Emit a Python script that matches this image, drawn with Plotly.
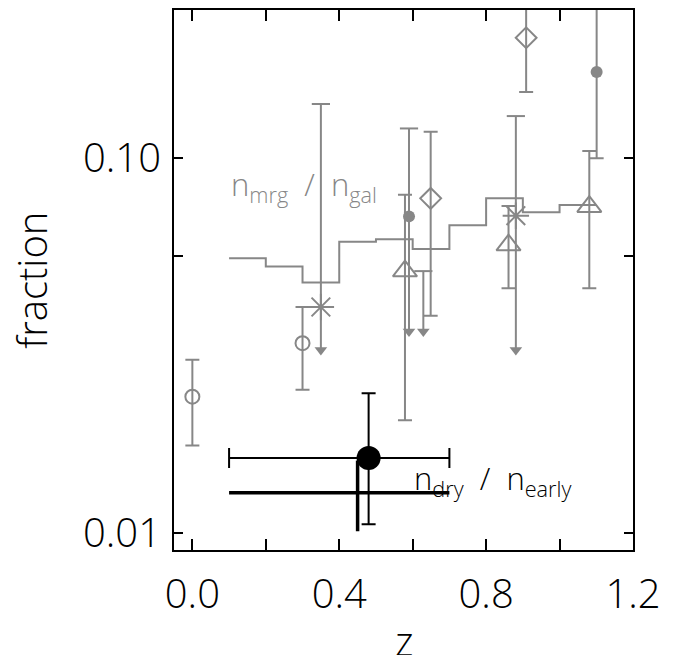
import numpy as np
import plotly.graph_objects as go

GRAY = "#878787"
BLACK = "#000000"

# ---- data ----
# two-sided error points
circ_open_z = [0.0, 0.30]
circ_open_f = [0.0231, 0.0321]
circ_open_lo = [0.0171, 0.0241]
circ_open_hi = [0.0290, 0.0401]

tri_z = [0.579, 0.861, 1.081]
tri_f = [0.0500, 0.0587, 0.0743]
tri_lo = [0.0200, 0.0450, 0.0450]
tri_hi = [0.0800, 0.0746, 0.1047]

dia_z = [0.649, 0.909]
dia_f = [0.0782, 0.2100]
dia_lo = [0.0380, 0.1505]
dia_hi = [0.1178, 0.3000]

fcirc_z = [1.101]
fcirc_f = [0.170]
fcirc_lo = [0.100]
fcirc_hi = [0.300]

# points whose lower error runs down to an arrow
ast_z = [0.350, 0.881]
ast_f = [0.0401, 0.0703]
ast_top = [0.1397, 0.1297]
ast_arrow = [0.0308, 0.0308]

fcirc2_z = [0.590]
fcirc2_f = [0.0700]
fcirc2_top = [0.1202]
fcirc2_arrow = [0.0345]

ulim_z = [0.629]
ulim_f = [0.0500]
ulim_arrow = [0.0345]

# n_mrg / n_gal step line
step_edges = [0.1, 0.2, 0.3, 0.4, 0.5, 0.6, 0.7, 0.8, 0.9, 1.0, 1.1]
step_vals = [0.0541, 0.0514, 0.0466, 0.0599, 0.0608, 0.0573, 0.0663, 0.0782, 0.0718, 0.0751]

# n_dry / n_early
dry_z = [0.48]
dry_f = [0.01585]
dry_zlo = [0.10]
dry_zhi = [0.70]
dry_flo = [0.01054]
dry_fhi = [0.0236]

dry2_z = [0.45]
dry2_f = [0.0128]
dry2_zlo = [0.10]
dry2_zhi = [0.70]
dry2_flo = [0.0101]
dry2_fhi = [0.0156]

x_ticks = [0.0, 0.4, 0.8, 1.2]
x_ticktext = ["0.0", "0.4", "0.8", "1.2"]
y_ticks = [0.01, 0.055, 0.1]
y_ticktext = ["0.01", "", "0.10"]

FONT = "Open Sans"

fig = go.Figure()


def sym_err(z, f, lo, hi, symbol, size, filled, color=GRAY):
    f = np.array(f); lo = np.array(lo); hi = np.array(hi)
    fig.add_trace(go.Scatter(
        x=z, y=f, mode="markers",
        marker=dict(symbol=symbol, size=size, color=color,
                    line=dict(color=color, width=0 if filled else 2)),
        error_y=dict(type="data", symmetric=False, array=hi - f,
                     arrayminus=f - lo, color=color, thickness=2, width=7),
        showlegend=False, hoverinfo="skip"))


def arrow_err(z, f, top, arrow, symbol, size, filled, color=GRAY):
    xs, ys = [], []
    for zi, ti, ai in zip(z, top, arrow):
        xs += [zi, zi, None]
        ys += [ti, ai, None]
    fig.add_trace(go.Scatter(x=xs, y=ys, mode="lines",
                             line=dict(color=color, width=2),
                             showlegend=False, hoverinfo="skip"))
    fig.add_trace(go.Scatter(x=z, y=top, mode="markers",
                             marker=dict(symbol="line-ew", size=13, color=color,
                                         line=dict(color=color, width=2)),
                             showlegend=False, hoverinfo="skip"))
    fig.add_trace(go.Scatter(x=z, y=arrow, mode="markers",
                             marker=dict(symbol="triangle-down", size=11,
                                         color=color, line=dict(width=0)),
                             showlegend=False, hoverinfo="skip"))
    if symbol is not None:
        fig.add_trace(go.Scatter(
            x=z, y=f, mode="markers",
            marker=dict(symbol=symbol, size=size, color=color,
                        line=dict(color=color, width=0 if filled else 2)),
            showlegend=False, hoverinfo="skip"))


# step line
fig.add_trace(go.Scatter(x=step_edges, y=step_vals + [step_vals[-1]],
                         mode="lines", line=dict(color=GRAY, width=2, shape="hv"),
                         showlegend=False, hoverinfo="skip"))

sym_err(circ_open_z, circ_open_f, circ_open_lo, circ_open_hi, "circle-open", 14, False)
sym_err(tri_z, tri_f, tri_lo, tri_hi, "triangle-up-open", 21, False)
sym_err(dia_z, dia_f, dia_lo, dia_hi, "diamond-open", 16, False)
sym_err(fcirc_z, fcirc_f, fcirc_lo, fcirc_hi, "circle", 12, True)

arrow_err(ast_z, ast_f, ast_top, ast_arrow, "asterisk-open", 22, False)
arrow_err(fcirc2_z, fcirc2_f, fcirc2_top, fcirc2_arrow, "circle", 12, True)
arrow_err(ulim_z, ulim_f, ulim_f, ulim_arrow, None, 0, False)

# black thick cross (no marker)
fig.add_trace(go.Scatter(
    x=dry2_z, y=dry2_f, mode="markers",
    marker=dict(size=1, color="rgba(0,0,0,0)"),
    error_x=dict(type="data", symmetric=False,
                 array=[dry2_zhi[0] - dry2_z[0]], arrayminus=[dry2_z[0] - dry2_zlo[0]],
                 color=BLACK, thickness=3.5, width=0),
    error_y=dict(type="data", symmetric=False,
                 array=[dry2_fhi[0] - dry2_f[0]], arrayminus=[dry2_f[0] - dry2_flo[0]],
                 color=BLACK, thickness=3.5, width=0),
    showlegend=False, hoverinfo="skip"))

# black point
fig.add_trace(go.Scatter(
    x=dry_z, y=dry_f, mode="markers",
    marker=dict(symbol="circle", size=24, color=BLACK),
    error_x=dict(type="data", symmetric=False,
                 array=[dry_zhi[0] - dry_z[0]], arrayminus=[dry_z[0] - dry_zlo[0]],
                 color=BLACK, thickness=2, width=10),
    error_y=dict(type="data", symmetric=False,
                 array=[dry_fhi[0] - dry_f[0]], arrayminus=[dry_f[0] - dry_flo[0]],
                 color=BLACK, thickness=2, width=7),
    showlegend=False, hoverinfo="skip"))

fig.add_annotation(x=0.100, y=np.log10(0.0845), xref="x", yref="y",
                   text="n<sub>mrg</sub>  /  n<sub>gal</sub>", showarrow=False,
                   xanchor="left", yanchor="middle",
                   font=dict(family=FONT, size=31, color=GRAY, weight=300))
fig.add_annotation(x=0.597, y=np.log10(0.0138), xref="x", yref="y",
                   text="n<sub>dry</sub>  /  n<sub>early</sub>", showarrow=False,
                   xanchor="left", yanchor="middle",
                   font=dict(family=FONT, size=31, color=BLACK, weight=300))

# axis titles
fig.add_annotation(x=0.5, y=-0.168, xref="paper", yref="paper", text="z",
                   showarrow=False, xanchor="center", yanchor="middle",
                   font=dict(family=FONT, size=40, color=BLACK, weight=300))
fig.add_annotation(x=-0.312, y=0.5, xref="paper", yref="paper", text="fraction",
                   showarrow=False, xanchor="center", yanchor="middle", textangle=-90,
                   font=dict(family=FONT, size=40, color=BLACK, weight=300))

# page body has an 8px margin: compensate so the plot sits where the reference has it
fig.update_layout(
    width=668, height=647,
    margin=dict(l=166, r=43, t=2, b=105, autoexpand=False),
    plot_bgcolor="white", paper_bgcolor="white",
    font=dict(family=FONT, size=40, color=BLACK, weight=300),
)
fig.update_xaxes(
    range=[-0.05, 1.2], tickvals=x_ticks, ticktext=x_ticktext,
    ticks="inside", ticklen=11, tickwidth=2, tickcolor=BLACK,
    minor=dict(dtick=0.2, tick0=0.0, ticks="inside", ticklen=11, tickwidth=2, tickcolor=BLACK),
    showline=True, linewidth=2, linecolor=BLACK, mirror="ticks",
    showgrid=False, zeroline=False, ticklabelstandoff=8,
    tickfont=dict(size=40), automargin=False,
)
fig.update_yaxes(
    type="log", range=[np.log10(0.009), np.log10(0.249)],
    tickvals=y_ticks, ticktext=y_ticktext,
    ticks="inside", ticklen=9, tickwidth=2, tickcolor=BLACK,
    showline=True, linewidth=2, linecolor=BLACK, mirror="ticks",
    showgrid=False, zeroline=False, ticklabelstandoff=3,
    tickfont=dict(size=40), automargin=False,
)

fig.write_html("out.html")
